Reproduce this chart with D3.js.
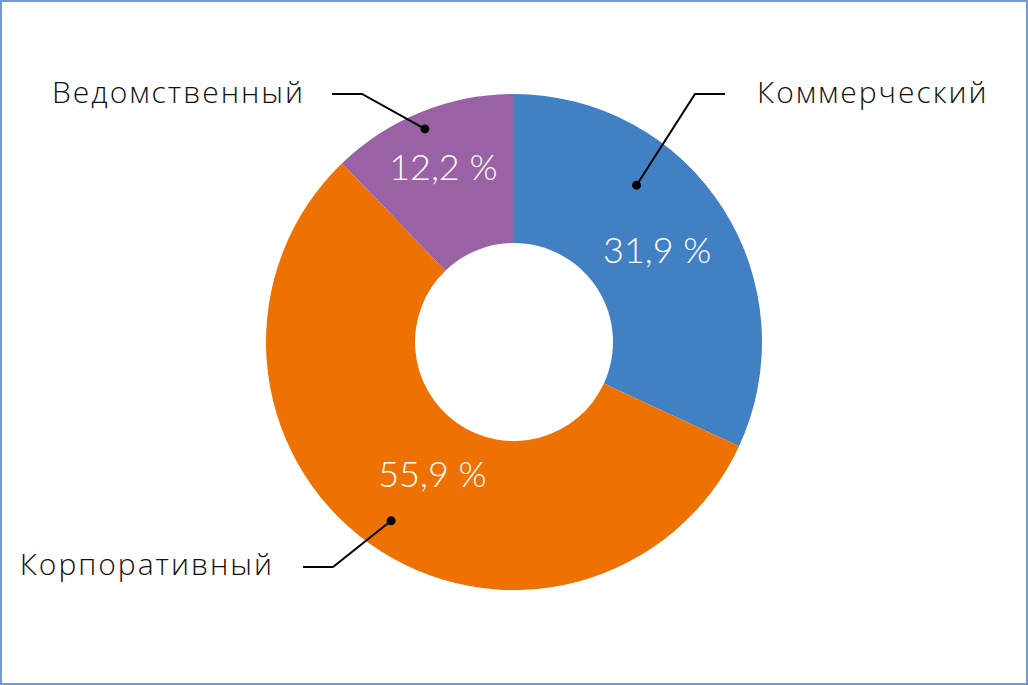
<!DOCTYPE html>
<html><head><meta charset="utf-8">
<script src="https://cdn.jsdelivr.net/npm/d3@7"></script>
<style>
html,body{margin:0;padding:0;background:#fff;}
svg{display:block;}
</style></head>
<body>
<script>
const categories = ["Коммерческий", "Корпоративный", "Ведомственный"];
const values = [31.9, 55.9, 12.2];
const valueLabels = ["31,9 %", "55,9 %", "12,2 %"];
const colors = ["#4280c4", "#ee7203", "#9a62a5"];

const W = 1028, H = 685;
const cx = 514, cy = 342, R = 248, r0 = 99;

// layout for labels (not data)
const pctLayout = [{rad: 170, da: 0}, {rad: 155, da: -3.7}, {rad: 189, da: 0}];
const leaderLayout = [
  {dotA: 38, dotR: 199, elbow: [695, 94], end: [725, 94], text: [757, 103], anchor: "start"},
  {dotA: 214.5, dotR: 217, elbow: [333, 567], end: [303, 567], text: [274, 575], anchor: "end"},
  {dotA: 337.3, dotR: 231, elbow: [362, 94], end: [332, 94], text: [305, 103], anchor: "end"}
];

const svg = d3.select("body").append("svg").attr("width", W).attr("height", H);
svg.append("rect").attr("x", 1).attr("y", 1).attr("width", W - 2).attr("height", H - 2)
  .attr("fill", "#fff").attr("stroke", "#6f9bd2").attr("stroke-width", 2);

const pie = d3.pie().sort(null).value(d => d)(values);
const arc = d3.arc().innerRadius(r0).outerRadius(R);
const g = svg.append("g").attr("transform", `translate(${cx},${cy})`);
g.selectAll("path.slice").data(pie).enter().append("path")
  .attr("class", "slice").attr("d", arc).attr("fill", (d, i) => colors[i]);

const deg = Math.PI / 180;
g.selectAll("text.pct").data(pie).enter().append("text")
  .attr("class", "pct")
  .attr("x", (d, i) => { const a = (d.startAngle + d.endAngle) / 2 + pctLayout[i].da * deg; return pctLayout[i].rad * Math.sin(a); })
  .attr("y", (d, i) => { const a = (d.startAngle + d.endAngle) / 2 + pctLayout[i].da * deg; return -pctLayout[i].rad * Math.cos(a); })
  .attr("dy", "0.36em")
  .attr("text-anchor", "middle")
  .attr("fill", "#fff")
  .style("font-family", "Lato, 'Open Sans', sans-serif")
  .style("font-weight", 300)
  .style("font-size", "36px")
  .text((d, i) => valueLabels[i]);

categories.forEach((c, i) => {
  const L = leaderLayout[i];
  const a = L.dotA * deg;
  const dx = cx + L.dotR * Math.sin(a), dy = cy - L.dotR * Math.cos(a);
  svg.append("polyline")
    .attr("points", `${dx},${dy} ${L.elbow[0]},${L.elbow[1]} ${L.end[0]},${L.end[1]}`)
    .attr("fill", "none").attr("stroke", "#000").attr("stroke-width", 2);
  svg.append("circle").attr("cx", dx).attr("cy", dy).attr("r", 4.5).attr("fill", "#000");
  svg.append("text").attr("x", L.text[0]).attr("y", L.text[1])
    .attr("text-anchor", L.anchor)
    .attr("fill", "#111")
    .style("font-family", "'Open Sans', sans-serif")
    .style("font-weight", 300)
    .style("font-size", "30px")
    .style("letter-spacing", "2px")
    .text(c);
});
</script>
</body></html>
